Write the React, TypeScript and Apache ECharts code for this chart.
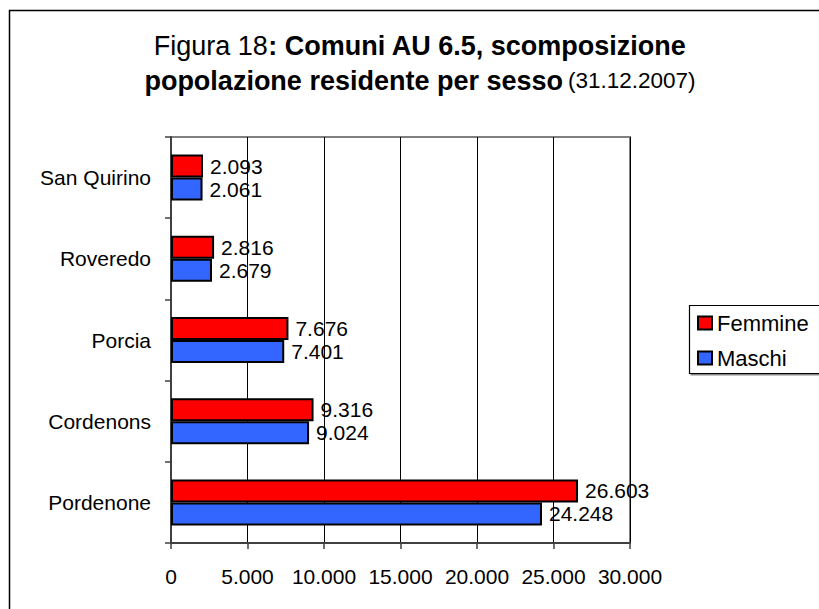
import React, { useEffect, useRef } from "react";
import * as echarts from "echarts";

const categories = ["Pordenone", "Cordenons", "Porcia", "Roveredo", "San Quirino"];
const femmine = [26603, 9316, 7676, 2816, 2093];
const maschi = [24248, 9024, 7401, 2679, 2061];
const seriesNames = ["Femmine", "Maschi"];
const xTicks = { min: 0, max: 30000, interval: 5000 };

const FONT = "Arial, 'Liberation Sans', sans-serif";

function fmt(v: number): string {
  return String(Math.round(v)).replace(/\B(?=(\d{3})+(?!\d))/g, ".");
}

export default function App() {
  const ref = useRef<HTMLDivElement>(null);
  useEffect(() => {
    if (!ref.current) return;
    const chart = echarts.init(ref.current, undefined, { renderer: "svg" });
    const labelCfg = {
      show: true,
      position: "right" as const,
      distance: 7,
      color: "#000",
      fontSize: 21,
      fontFamily: FONT,
      formatter: (p: any) => fmt(p.value),
    };
    chart.setOption({
      animation: false,
      backgroundColor: "#fff",
      title: {
        left: 415,
        textAlign: "center",
        top: 23,
        text:
          "{n|Figura 18}{b|: Comuni AU 6.5, scomposizione}\n{b|popolazione residente per sesso} {s|(31.12.2007)}",
        textStyle: {
          rich: {
            n: { fontSize: 27, fontFamily: FONT, fontWeight: "normal", color: "#000", lineHeight: 35 },
            b: { fontSize: 27, fontFamily: FONT, fontWeight: "bold", color: "#000", lineHeight: 35 },
            s: { fontSize: 22.5, fontFamily: FONT, fontWeight: "normal", color: "#000", lineHeight: 35 },
          },
        },
      },
      graphic: [
        {
          type: "rect",
          shape: { x: 9.5, y: 10.5, width: 830, height: 640 },
          style: { fill: "none", stroke: "#000", lineWidth: 1.5 },
          silent: true,
        },
        {
          type: "rect",
          shape: { x: 689.5, y: 305.5, width: 150, height: 68 },
          style: { fill: "#fff", stroke: "#000", lineWidth: 1.2, shadowColor: "#888", shadowOffsetY: 1.5, shadowOffsetX: 1.5 },
          silent: true,
          z: 0,
        },
      ],
      legend: {
        data: seriesNames,
        orient: "vertical",
        left: 692,
        top: 307,
        itemWidth: 14,
        itemHeight: 13,
        itemGap: 13,
        icon: "rect",
        textStyle: { fontSize: 22, fontFamily: FONT, color: "#000" },
        z: 10,
      },
      grid: {
        left: 171,
        top: 137,
        right: 189,
        bottom: 66,
        show: true,
        borderColor: "#808080",
        borderWidth: 2,
        backgroundColor: "#fff",
      },
      xAxis: {
        type: "value",
        min: xTicks.min,
        max: xTicks.max,
        interval: xTicks.interval,
        axisLine: { show: true, lineStyle: { color: "#404040", width: 2 } },
        axisTick: { show: true, length: 6, lineStyle: { color: "#404040", width: 1.5 } },
        splitLine: { show: true, lineStyle: { color: "#000", width: 1 } },
        axisLabel: {
          fontSize: 21,
          fontFamily: FONT,
          color: "#000",
          margin: 23,
          formatter: (v: number) => fmt(v),
        },
      },
      yAxis: {
        type: "category",
        data: categories,
        axisLine: { show: true, lineStyle: { color: "#404040", width: 2 } },
        axisTick: { show: true, length: 6, lineStyle: { color: "#404040", width: 1.5 } },
        axisLabel: { fontSize: 21, fontFamily: FONT, color: "#000", margin: 20 },
        splitLine: { show: false },
      },
      series: [
        {
          name: seriesNames[0],
          type: "bar",
          data: femmine,
          barWidth: 23,
          barGap: "0%",
          itemStyle: { color: "#FF0000", borderColor: "#000", borderWidth: 2 },
          label: labelCfg,
        },
        {
          name: seriesNames[1],
          type: "bar",
          data: maschi,
          barWidth: 23,
          barGap: "0%",
          itemStyle: { color: "#3366FF", borderColor: "#000", borderWidth: 2 },
          label: labelCfg,
        },
      ],
    });
    return () => chart.dispose();
  }, []);
  return <div ref={ref} style={{ width: 819, height: 609, position: "absolute", left: 0, top: 0 }} />;
}
